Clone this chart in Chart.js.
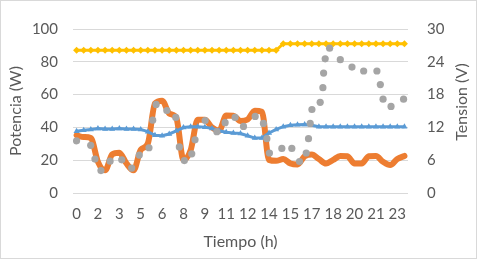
<!DOCTYPE html>
<html>
<head>
<meta charset="utf-8">
<script src="https://cdn.jsdelivr.net/npm/chart.js@4.4.1/dist/chart.umd.min.js"></script>
<style>
  html, body { margin: 0; padding: 0; background: #fff; }
  #wrap { position: relative; width: 477px; height: 259px; box-sizing: border-box; border: 1px solid #d9d9d9; }
</style>
</head>
<body>
<div id="wrap"><canvas id="chart"></canvas></div>
<script>
// time of each sample (h), every half hour
var hours = [0, 0.5, 1, 1.5, 2, 2.5, 3, 3.5, 4, 4.5, 5, 5.5, 6, 6.5, 7, 7.5, 8, 8.5, 9, 9.5,
    10, 10.5, 11, 11.5, 12, 12.5, 13, 13.5, 14, 14.5, 15, 15.5, 16, 16.5, 17, 17.5, 18, 18.5,
    19, 19.5, 20, 20.5, 21, 21.5, 22, 22.5, 23];

// x axis labels (Excel rounds 1.5 -> 2 etc.)
var tickHours = [0, 1.5, 3, 4.5, 6, 7.5, 9, 10.5, 12, 13.5, 15, 16.5, 18, 19.5, 21, 22.5];
var tickLabels = ['0', '2', '3', '5', '6', '8', '9', '11', '12', '14', '15', '17', '18', '20', '21', '23'];

// potencia (W) - smoothed line
var potenciaSmooth = [35.2, 34.1, 33.5, 19, 13.8, 23.5, 24.6, 18, 13.8, 26.3, 30.2, 54.6, 56.3, 48.5,
    45.7, 20.2, 26, 44.6, 44.6, 40, 38, 47.2, 47.1, 43.9, 44.8, 50.2, 49.6, 20.2, 19.6, 20.7, 18,
    17.4, 22.4, 23.5, 20.7, 18, 20.2, 22.6, 22.4, 18, 18, 22.4, 22.6, 19, 17, 20.7, 22.6];

// potencia (W) - measured points
var grayHours = [0, 0.99, 1.29, 1.71, 2.35, 3.17, 3.87, 4.4, 5.08, 5.34, 5.58, 6.33, 6.96, 7.21,
    7.56, 8.08, 8.31, 9.02, 9.84, 10.42, 11.12, 11.71, 12.53, 13.11, 13.35, 13.53, 14.4, 15.1,
    15.64, 16.11, 16.27, 16.39, 16.51, 17.09, 17.28, 17.33, 17.44, 17.75, 18.5, 19.32, 20.14,
    21.07, 21.31, 21.5, 22.06, 22.94];
var grayPower = [31.8, 29.1, 20.7, 13.7, 19.4, 20.2, 15.2, 23.1, 27.6, 44.4, 54, 50.3, 46.1, 28.1,
    19.8, 23.9, 32.4, 44.2, 37.4, 42.9, 46.1, 40.6, 46.7, 42.4, 33.1, 24.4, 27.2, 27.2,
    19.2, 24.4, 33.1, 42.4, 50.9, 55.3, 64.2, 73.1, 81.8, 88.3, 81.3, 76.8, 74.4,
    74.4, 66.1, 57.2, 52.8, 57.2];

// tension (V)
var tensionA = [26.1, 26.1, 26.1, 26.1, 26.1, 26.1, 26.1, 26.1, 26.1, 26.1, 26.1, 26.1, 26.1, 26.1,
    26.1, 26.1, 26.1, 26.1, 26.1, 26.1, 26.1, 26.1, 26.1, 26.1, 26.1, 26.1, 26.1, 26.1, 26.1,
    27.3, 27.3, 27.3, 27.3, 27.3, 27.3, 27.3, 27.3, 27.3, 27.3, 27.3, 27.3, 27.3, 27.3, 27.3,
    27.3, 27.3, 27.3];
var tensionB = [11.3, 11.47, 11.63, 11.8, 11.72, 11.72, 11.8, 11.72, 11.72, 11.63, 11.22, 10.55,
    10.47, 10.8, 11.38, 11.97, 12.13, 12.13, 12.05, 11.8, 11.38, 11.13, 10.97, 10.88, 10.47,
    10.05, 10.05, 10.97, 11.63, 12.13, 12.38, 12.47, 12.55, 12.38, 12.13, 12.13, 12.13, 12.13,
    12.13, 12.13, 12.13, 12.13, 12.13, 12.13, 12.13, 12.13, 12.13];

var FONT = 'Lato, "Liberation Sans", sans-serif';
var TEXT = '#595959';

function toPoints(xs, ys) {
    return xs.map(function(x, i) { return { x: x, y: ys[i] }; });
}

var rightTitle = {
    id: 'rightTitle',
    afterDraw: function(chart) {
        var ctx = chart.ctx;
        ctx.save();
        ctx.translate(461, 101);
        ctx.rotate(-Math.PI / 2);
        ctx.font = '16px ' + FONT;
        ctx.fillStyle = TEXT;
        ctx.textAlign = 'center';
        ctx.textBaseline = 'middle';
        ctx.fillText('Tension (V)', 0, 0);
        ctx.restore();
    }
};

new Chart(document.getElementById('chart'), {
    type: 'line',
    data: {
        datasets: [{
            label: 'Potencia medida',
            type: 'scatter',
            data: toPoints(grayHours, grayPower),
            yAxisID: 'y',
            showLine: false,
            pointStyle: 'circle',
            pointRadius: 3.6,
            pointBorderWidth: 0,
            backgroundColor: '#a5a5a5',
            borderColor: '#a5a5a5'
        }, {
            label: 'Tension A',
            data: toPoints(hours, tensionA),
            yAxisID: 'y1',
            borderColor: '#ffc000',
            backgroundColor: '#ffc000',
            borderWidth: 3,
            pointStyle: 'rectRot',
            pointRadius: 3.5,
            pointBorderWidth: 0
        }, {
            label: 'Tension B',
            data: toPoints(hours, tensionB),
            yAxisID: 'y1',
            borderColor: '#5b9bd5',
            backgroundColor: '#5b9bd5',
            borderWidth: 3,
            pointStyle: 'triangle',
            pointRadius: 3.5,
            pointBorderWidth: 0
        }, {
            label: 'Potencia',
            data: toPoints(hours, potenciaSmooth),
            yAxisID: 'y',
            borderColor: '#ed7d31',
            backgroundColor: '#ed7d31',
            borderWidth: 6,
            cubicInterpolationMode: 'monotone',
            pointRadius: 0,
            borderCapStyle: 'round',
            borderJoinStyle: 'round'
        }]
    },
    options: {
        responsive: true,
        maintainAspectRatio: false,
        animation: false,
        events: [],
        layout: { padding: { top: 11, left: 0, right: 0, bottom: 0 } },
        plugins: {
            legend: { display: false },
            tooltip: { enabled: false }
        },
        scales: {
            x: {
                type: 'linear',
                min: -0.25,
                max: 23.25,
                grid: { display: false, drawTicks: false },
                border: { display: false },
                afterBuildTicks: function(axis) {
                    axis.ticks = tickHours.map(function(v) { return { value: v }; });
                },
                afterFit: function(axis) { axis.height = 65; },
                ticks: {
                    autoSkip: false,
                    maxRotation: 0,
                    padding: 12,
                    color: TEXT,
                    font: { family: FONT, size: 15 },
                    callback: function(value) {
                        var i = tickHours.indexOf(value);
                        return i >= 0 ? tickLabels[i] : '';
                    }
                },
                title: {
                    display: true,
                    text: 'Tiempo (h)',
                    color: TEXT,
                    font: { family: FONT, size: 16 },
                    padding: { top: 0, bottom: 7 }
                }
            },
            y: {
                position: 'left',
                min: 0,
                max: 100,
                grid: { color: '#d9d9d9', lineWidth: 1, drawTicks: false },
                border: { display: false },
                afterFit: function(axis) { axis.width = 72; },
                ticks: {
                    stepSize: 20,
                    padding: 15,
                    color: TEXT,
                    font: { family: FONT, size: 15 }
                },
                title: {
                    display: true,
                    text: 'Potencia (W)',
                    color: TEXT,
                    font: { family: FONT, size: 16 },
                    padding: { top: 5, bottom: 0 }
                }
            },
            y1: {
                position: 'right',
                min: 0,
                max: 30,
                grid: { display: false, drawTicks: false },
                border: { display: false },
                afterFit: function(axis) { axis.width = 68; },
                ticks: {
                    stepSize: 6,
                    padding: 19,
                    color: TEXT,
                    font: { family: FONT, size: 15 }
                }
            }
        }
    },
    plugins: [rightTitle]
});
</script>
</body>
</html>
